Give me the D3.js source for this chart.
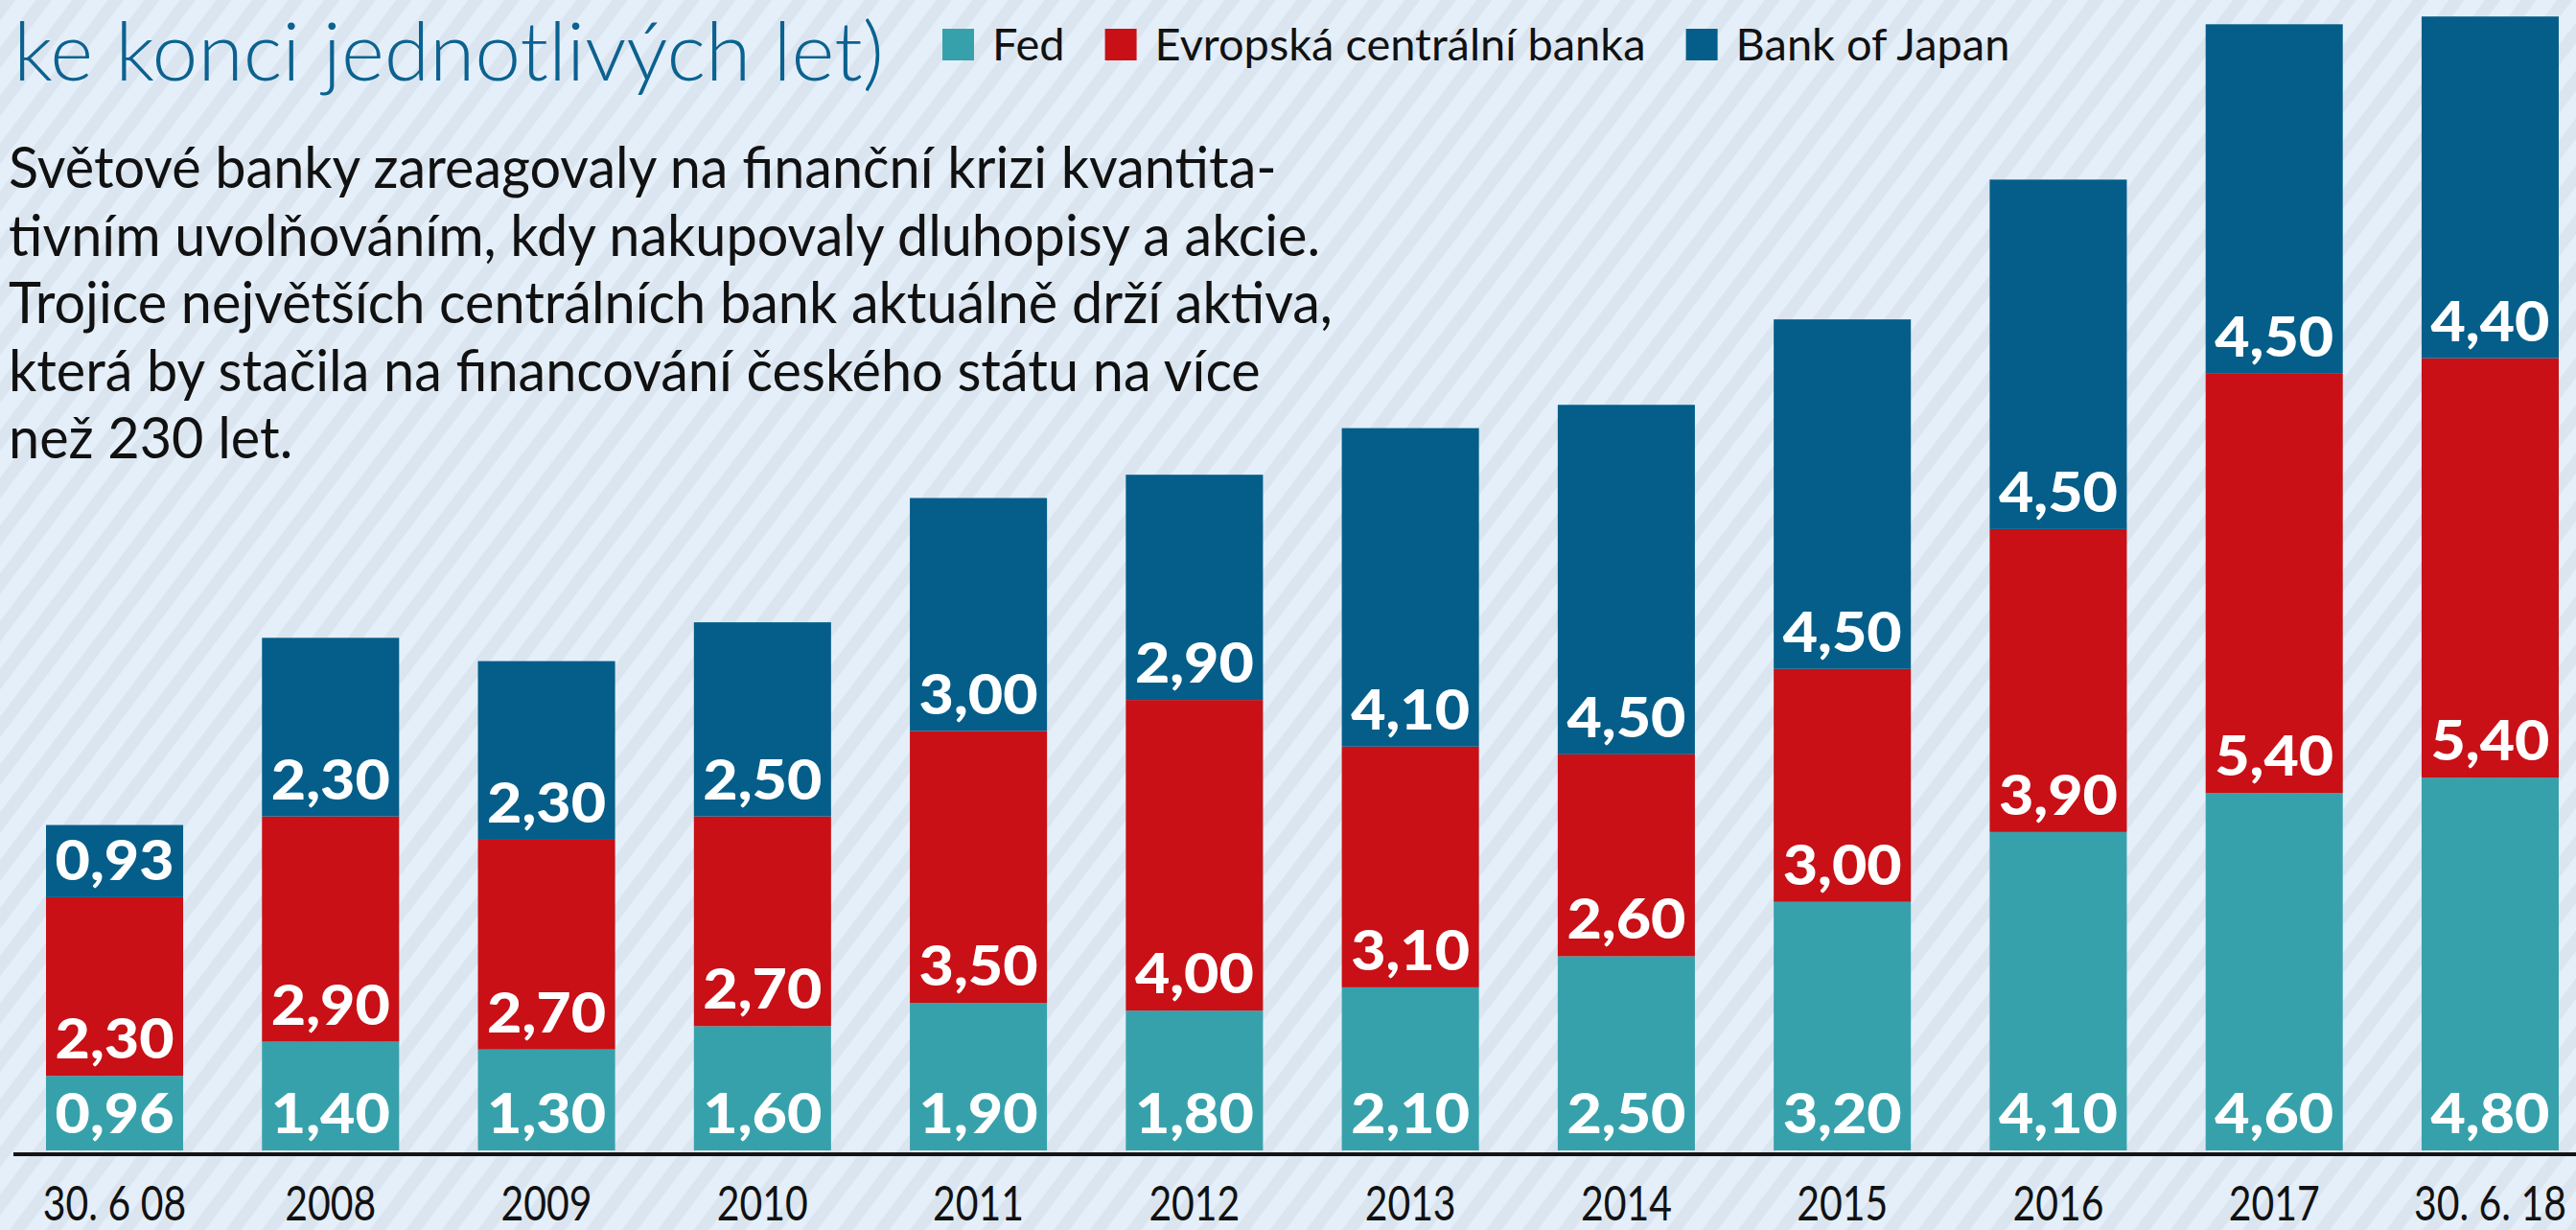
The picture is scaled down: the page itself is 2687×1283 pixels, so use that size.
<!DOCTYPE html>
<html>

<head>
  <meta charset="UTF-8">
  <title>Aktiva centrálních bank</title>
  <script src="https://d3js.org/d3.v7.min.js"></script>
  <style>
    body {
      margin: 0;
      background: #e5eff9;
    }

    svg {
      display: block;
    }

    text {
      font-family: Lato, "Open Sans", sans-serif;
    }
  </style>
</head>

<body>
  <svg></svg>
</body>

<script>
  let width = 2687,
    height = 1283;

  // bilance v bil. USD
  let categories = ["30. 6 08", "2008", "2009", "2010", "2011", "2012", "2013", "2014", "2015", "2016", "2017", "30. 6. 18"];
  let fed = [0.96, 1.40, 1.30, 1.60, 1.90, 1.80, 2.10, 2.50, 3.20, 4.10, 4.60, 4.80];
  let ecb = [2.30, 2.90, 2.70, 2.70, 3.50, 4.00, 3.10, 2.60, 3.00, 3.90, 5.40, 5.40];
  let boj = [0.93, 2.30, 2.30, 2.50, 3.00, 2.90, 4.10, 4.50, 4.50, 4.50, 4.50, 4.40];

  let seriesKeys = ["fed", "ecb", "boj"];
  let seriesNames = ["Fed", "Evropská centrální banka", "Bank of Japan"];
  let seriesColors = ["#37a1ab", "#c81016", "#045e89"];

  let titleText = "ke konci jednotlivých let)";
  let intro = [
    "Světové banky zareagovaly na finanční krizi kvantita-",
    "tivním uvolňováním, kdy nakupovaly dluhopisy a akcie.",
    "Trojice největších centrálních bank aktuálně drží aktiva,",
    "která by stačila na financování českého státu na více",
    "než 230 let."
  ];

  let svg = d3.select("svg")
    .attr("width", width)
    .attr("height", height);

  // diagonal stripes in the background
  let pattern = svg.append("defs")
    .append("pattern")
    .attr("id", "stripes")
    .attr("patternUnits", "userSpaceOnUse")
    .attr("width", 30)
    .attr("height", 30)
    .attr("patternTransform", "rotate(37)");
  pattern.append("rect").attr("width", 30).attr("height", 30).attr("fill", "#e5eff9");
  pattern.append("rect").attr("width", 13).attr("height", 30).attr("fill", "#dbe5ef");

  svg.append("rect")
    .attr("width", width)
    .attr("height", height)
    .attr("fill", "url(#stripes)");

  // squeeze a text horizontally so it gets the wanted width
  function fit(sel, target) {
    return target / sel.node().getComputedTextLength();
  }

  // title (its first line is cut off in the original)
  let title = svg.append("text")
    .text(titleText)
    .attr("fill", "#0b6290")
    .style("font-weight", 300)
    .style("font-size", "84px");
  title.attr("transform", "translate(14,84) scale(" + fit(title, 908) + ",1)");

  // intro paragraph
  let lines = svg.append("g")
    .selectAll("text")
    .data(intro)
    .enter()
    .append("text")
    .text(d => d)
    .attr("fill", "#111")
    .style("font-size", "60px");
  let introScale = fit(d3.select(lines.nodes()[0]), 1323);
  lines.attr("transform", (d, i) => "translate(9," + (196 + i * 70.6) + ") scale(" + introScale + ",1)");

  // legend
  let legend = svg.append("g");
  let legendTexts = legend.selectAll("text")
    .data(seriesNames)
    .enter()
    .append("text")
    .text(d => d)
    .attr("fill", "#111")
    .style("font-size", "46px");
  let legendScale = fit(d3.select(legendTexts.nodes()[1]), 512);

  let lx = 983;
  legendTexts.each(function(d, i) {
    let w = this.getComputedTextLength() * legendScale;
    legend.append("rect")
      .attr("x", lx)
      .attr("y", 30)
      .attr("width", 33)
      .attr("height", 33)
      .attr("fill", seriesColors[i]);
    d3.select(this).attr("transform", "translate(" + (lx + 52) + ",63) scale(" + legendScale + ",1)");
    lx += 52 + w + 42;
  });

  // stacked bars
  let rows = categories.map((c, i) => ({ cat: c, fed: fed[i], ecb: ecb[i], boj: boj[i] }));
  let stacked = d3.stack().keys(seriesKeys)(rows);

  let x = d3.scaleBand()
    .domain(categories)
    .range([48, 2669])
    .paddingInner(0.365)
    .paddingOuter(0);

  let y = d3.scaleLinear()
    .domain([0, 14.8])
    .range([1200, 1]);

  let layers = svg.append("g")
    .selectAll("g")
    .data(stacked)
    .enter()
    .append("g")
    .attr("fill", (d, i) => seriesColors[i]);

  layers.selectAll("rect")
    .data(d => d)
    .enter()
    .append("rect")
    .attr("x", d => x(d.data.cat))
    .attr("y", d => y(d[1]))
    .attr("width", x.bandwidth())
    .attr("height", d => y(d[0]) - y(d[1]));

  // value labels, sitting at the bottom of each segment
  let fmt = v => d3.format(".2f")(v).replace(".", ",");

  let labels = layers.selectAll("text")
    .data(d => d)
    .enter()
    .append("text")
    .text(d => fmt(d[1] - d[0]))
    .attr("text-anchor", "middle")
    .attr("fill", "white")
    .style("font-weight", 900)
    .style("font-size", "57px");

  let valueScale = fit(d3.select(labels.nodes()[0]), 124);
  labels.attr("transform", d => "translate(" + (x(d.data.cat) + x.bandwidth() / 2) + "," + (y(d[0]) - 18) + ") scale(" + valueScale + ",1)");

  // x axis
  let axis = svg.append("g")
    .attr("transform", "translate(0,1204)")
    .call(d3.axisBottom(x).tickSize(0));

  axis.select(".domain").remove();
  axis.append("line")
    .attr("x1", 14)
    .attr("x2", width)
    .attr("stroke", "#141414")
    .attr("stroke-width", 4);

  let ticks = axis.selectAll(".tick text")
    .attr("y", 69)
    .attr("dy", null)
    .attr("fill", "#111")
    .style("font-family", "Lato, sans-serif")
    .style("font-size", "50px");
  let tickScale = fit(d3.select(ticks.nodes()[7]), 95);
  ticks.attr("transform", "scale(" + tickScale + ",1)");
</script>

</html>
